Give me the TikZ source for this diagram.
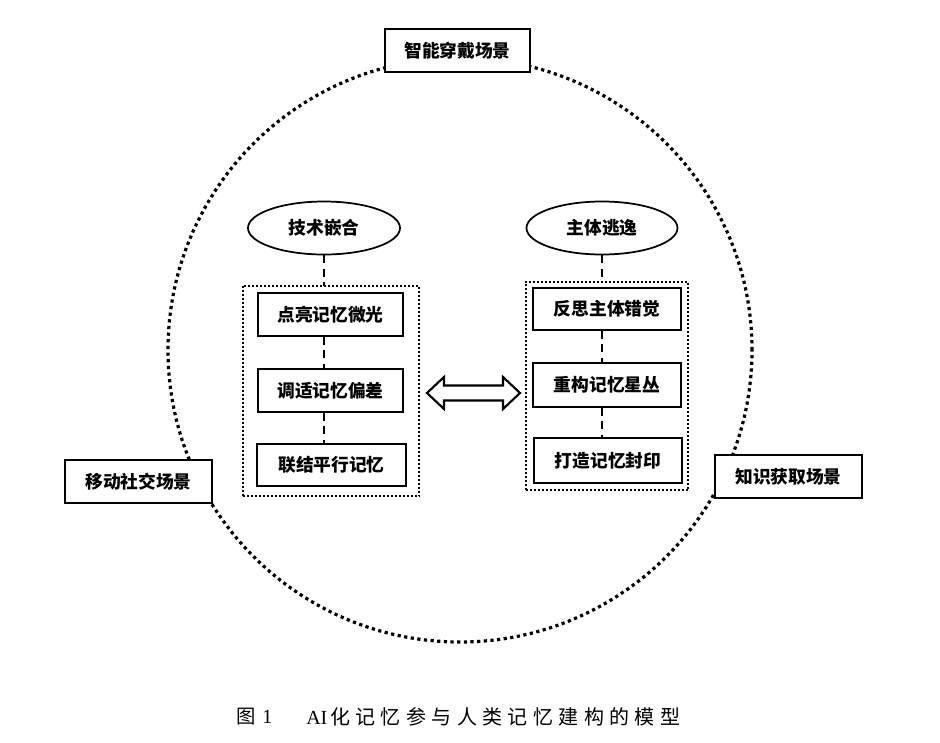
\documentclass[tikz,border=0pt]{standalone}
\usepackage{fontspec}
\setmainfont{Noto Sans CJK SC}
\newfontfamily\capfont[LetterSpace=27]{Noto Sans CJK SC}
\newfontfamily\capserif{Liberation Serif}
\usetikzlibrary{shapes.geometric,calc}
\def\pxu{0.75pt}
\tikzset{
  every node/.style={font=\fontsize{13.3pt}{15pt}\selectfont\bfseries, inner sep=0pt},
  solidbox/.style={draw, line width=1.6pt, fill=white, minimum width=#1*\pxu, minimum height=43*\pxu},
  oval/.style={draw, ellipse, line width=1.3pt, minimum width=152*\pxu, minimum height=53*\pxu},
  dotbox/.style={draw, line width=1.4pt, dash pattern=on 1.4pt off 1.6pt},
  dashlink/.style={line width=1.5pt, dash pattern=on 6pt off 4pt},
  bigdots/.style={line width=2.4pt, dash pattern=on 2.4pt off 2.6pt},
  arrowshape/.style={draw, line width=1.6pt, fill=white, line join=miter},
  captext/.style={font=\fontsize{14.5pt}{16pt}\selectfont, anchor=west},
}
\begin{document}
\begin{tikzpicture}[x=0.75pt, y=-0.75pt]
\useasboundingbox[fill=white] (0,0) rectangle (940,743);

% outer dotted circle
\draw[bigdots] (460,350) circle[radius=292*\pxu];

% scene boxes
\node[solidbox=145] (top) at (457.5,50.5) {智能穿戴场景};
\node[solidbox=147] (left) at (138.5,481.5) {移动社交场景};
\node[solidbox=147] (right) at (788.5,476.5) {知识获取场景};

% left column
\node[oval] (ell1) at (324,228) {技术嵌合};
\node[draw=none, minimum width=176*\pxu, minimum height=210*\pxu] (dbl) at (331,391) {};
\draw[dotbox] (dbl.south west) rectangle (dbl.north east);
\node[solidbox=145] (l1) at (330.5,314.5) {点亮记忆微光};
\node[solidbox=145] (l2) at (330.5,390.5) {调适记忆偏差};
\node[solidbox=149, minimum height=42*\pxu] (l3) at (331.5,465) {联结平行记忆};

% right column
\node[oval, minimum width=151*\pxu] (ell2) at (602,228) {主体逃逸};
\node[draw=none, minimum width=162*\pxu, minimum height=208*\pxu] (dbr) at (607,386) {};
\draw[dotbox] (dbr.south west) rectangle (dbr.north east);
\node[solidbox=148, minimum height=42*\pxu] (r1) at (607,309) {反思主体错觉};
\node[solidbox=148, minimum height=44*\pxu] (r2) at (607,385) {重构记忆星丛};
\node[solidbox=148, minimum height=45*\pxu] (r3) at (608,460.5) {打造记忆封印};

% dashed links
\draw[dashlink] (ell1.south) -- (ell1.south |- dbl.north);
\draw[dashlink] (ell1.south |- l1.south) -- (ell1.south |- l2.north);
\draw[dashlink] (ell1.south |- l2.south) -- (ell1.south |- l3.north);
\draw[dashlink] (ell2.south) -- (ell2.south |- dbr.north);
\draw[dashlink] (ell2.south |- r1.south) -- (ell2.south |- r2.north);
\draw[dashlink] (ell2.south |- r2.south) -- (ell2.south |- r3.north);

% double arrow between the two groups
\coordinate (arr) at ($(dbl.east)!0.5!(dbr.west) + (1,4.5)$);
\begin{scope}[shift={(arr)}]
\draw[arrowshape] (-46.5,0) -- (-29.5,-16) -- (-29.5,-7.5) -- (29.5,-7.5) -- (29.5,-16)
  -- (46.5,0) -- (29.5,16) -- (29.5,7.5) -- (-29.5,7.5) -- (-29.5,16) -- cycle;
\end{scope}

% caption
\node[captext] (capa) at (236,717) {\capfont 图\hspace{5pt}\capserif\fontsize{15pt}{16pt}\selectfont 1};
\node[captext] (capb) at (306,717) {\capserif\fontsize{15pt}{16pt}\selectfont AI\hspace{2pt}\capfont 化记忆参与人类记忆建构的模型};
\end{tikzpicture}
\end{document}
